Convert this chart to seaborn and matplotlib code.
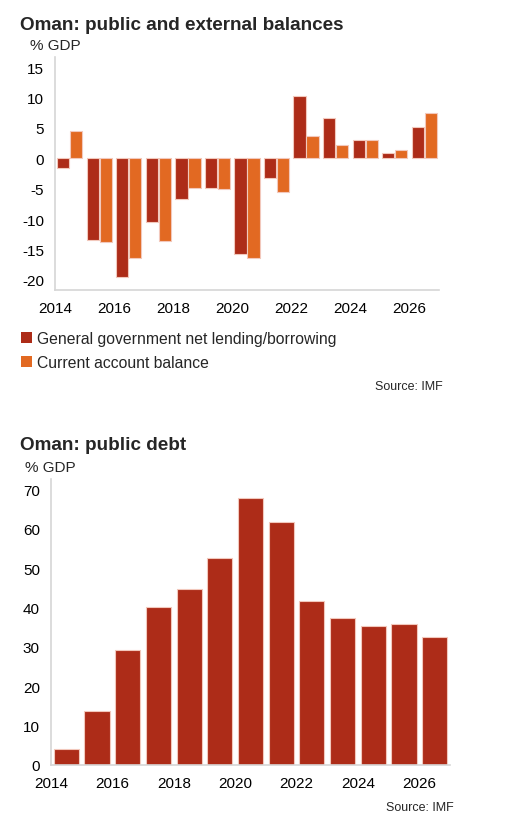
import numpy as np
import pandas as pd
import matplotlib
matplotlib.use("Agg")
import matplotlib.pyplot as plt
import seaborn as sns
from matplotlib.patches import Patch

sns.set_style("white")
plt.rcParams['font.family'] = ['Liberation Sans', 'DejaVu Sans']
plt.rcParams['axes.unicode_minus'] = False

# data
years = list(range(2014, 2027))
gov_balance = [-1.6, -13.4, -19.6, -10.5, -6.7, -4.9, -15.7, -3.2, 10.3, 6.6, 3.1, 0.9, 5.2]
current_account = [4.5, -13.8, -16.5, -13.6, -4.9, -5.0, -16.5, -5.6, 3.6, 2.2, 3.1, 1.3, 7.4]
public_debt = [4.1, 13.8, 29.3, 40.0, 44.6, 52.5, 67.8, 61.7, 41.6, 37.4, 35.3, 35.7, 32.6]
tick_years = [2014, 2016, 2018, 2020, 2022, 2024, 2026]
series_names = ['General government net lending/borrowing', 'Current account balance']

DARK = '#AD2C18'
ORANGE = '#E26922'
SPINE = '#d6d6d6'
TICK = '#9a6a50'
EDGE = '#f2c8bc'

W, H = 516, 820
fig = plt.figure(figsize=(W / 100, H / 100), dpi=100)


def px_axes(left, top, right, bottom):
    return fig.add_axes([left / W, 1 - bottom / H, (right - left) / W, (bottom - top) / H])


def style_axis(ax, yticks):
    for side in ['top', 'right']:
        ax.spines[side].set_visible(False)
    for side in ['left', 'bottom']:
        ax.spines[side].set_color(SPINE)
        ax.spines[side].set_linewidth(1.2)
    ax.set_yticks(yticks)
    # year boundaries sit at category edges
    ax.set_xticks([years.index(y) - 0.5 for y in tick_years])
    ax.set_xticklabels([str(y) for y in tick_years])
    ax.set_xlim(-0.5, len(years) - 0.5)
    ax.tick_params(axis='both', colors=TICK, labelcolor='black', labelsize=11,
                   length=6, width=1, direction='out', pad=2)
    ax.set_xlabel('')
    ax.set_ylabel('')
    ax.grid(False)


# --- chart 1: public and external balances ---
df1 = pd.DataFrame({
    'year': years * 2,
    'value': gov_balance + current_account,
    'series': [series_names[0]] * len(years) + [series_names[1]] * len(years),
})
ax1 = px_axes(55, 58, 439, 291)
sns.barplot(data=df1, x='year', y='value', hue='series', ax=ax1,
            palette=[DARK, ORANGE], width=0.88, gap=0.06, edgecolor=EDGE,
            linewidth=0.8, saturation=1, legend=False)
ax1.set_ylim(-21.7, 16.7)
style_axis(ax1, [-20, -15, -10, -5, 0, 5, 10, 15])

fig.text(20 / W, 1 - 25 / H, 'Oman: public and external balances', fontsize=13.6,
         fontweight='bold', va='center', ha='left')
fig.text(30 / W, 1 - 46 / H, '% GDP', fontsize=11, va='center', ha='left')

handles = [Patch(facecolor=DARK, edgecolor='none'), Patch(facecolor=ORANGE, edgecolor='none')]
fig.legend(handles, series_names, loc='upper left', bbox_to_anchor=(21 / W, 1 - 332 / H),
           frameon=False, fontsize=11.3, handlelength=0.7, handleheight=0.7,
           handletextpad=0.3, labelspacing=0.6, borderpad=0, borderaxespad=0)
fig.text(443 / W, 1 - 387 / H, 'Source: IMF', fontsize=9, va='center', ha='right')

# --- chart 2: public debt ---
df2 = pd.DataFrame({'year': years, 'debt': public_debt})
ax2 = px_axes(51, 480, 450, 766)
sns.barplot(data=df2, x='year', y='debt', ax=ax2, color=DARK, width=0.82,
            edgecolor=EDGE, linewidth=0.8, saturation=1)
ax2.set_ylim(0, 72.6)
style_axis(ax2, [0, 10, 20, 30, 40, 50, 60, 70])

fig.text(20 / W, 1 - 446 / H, 'Oman: public debt', fontsize=13.6,
         fontweight='bold', va='center', ha='left')
fig.text(25 / W, 1 - 468 / H, '% GDP', fontsize=11, va='center', ha='left')
fig.text(454 / W, 1 - 808 / H, 'Source: IMF', fontsize=9, va='center', ha='right')

fig.savefig('out.png', dpi=100)
